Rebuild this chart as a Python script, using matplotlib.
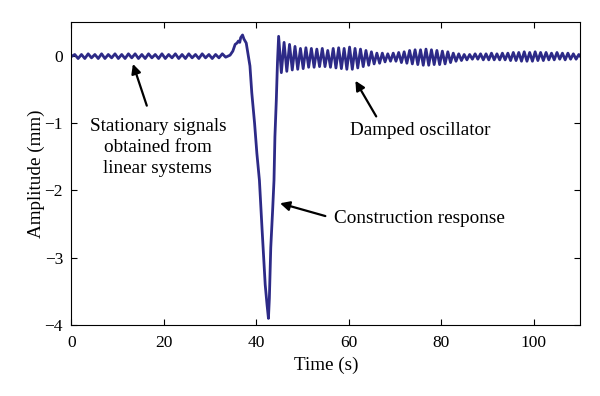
import numpy as np
import matplotlib.pyplot as plt

# quiet part before the event: peaks/troughs every half period
pre_start = 0.0
pre_step = 0.725
pre_amp = [-0.01, 0.02, -0.04, 0.02, -0.04, 0.03, -0.03, 0.02, -0.04, 0.03,
           -0.04, 0.02, -0.03, 0.03, -0.04, 0.02, -0.04, 0.03, -0.03, 0.03,
           -0.04, 0.02, -0.04, 0.03, -0.03, 0.02, -0.04, 0.03, -0.04, 0.02,
           -0.03, 0.03, -0.04, 0.02, -0.04, 0.03, -0.03, 0.02, -0.04, 0.03,
           -0.03, 0.02, -0.04, 0.02, -0.03, 0.03, -0.02]

# construction response
event_t = [34.3, 34.9, 35.4, 35.8, 36.1, 36.4, 36.6, 37.0, 37.3, 37.8, 38.6,
           39.0, 39.6, 40.1, 40.65, 41.2, 41.9, 42.3, 42.6, 42.8, 43.1, 43.5,
           43.8, 44.0, 44.3, 44.55]
event_amp = [0.01, 0.07, 0.17, 0.19, 0.22, 0.20, 0.27, 0.31, 0.25, 0.19, -0.15,
             -0.55, -1.0, -1.45, -1.85, -2.55, -3.4, -3.7, -3.9, -3.6, -2.85, -2.3,
             -1.85, -1.2, -0.66, -0.1]

# damped oscillation afterwards (peak, trough pairs)
post_start = 44.8
post_step = 0.59
post_amp = [0.29, -0.25, 0.20, -0.23, 0.17, -0.21, 0.14, -0.20, 0.11, -0.19,
            0.12, -0.17, 0.11, -0.17, 0.10, -0.16, 0.11, -0.16, 0.08, -0.17,
            0.11, -0.18, 0.12, -0.19, 0.11, -0.20, 0.13, -0.20, 0.11, -0.18,
            0.10, -0.16, 0.08, -0.14, 0.06, -0.12, 0.04, -0.11, 0.04, -0.09,
            0.03, -0.08, 0.04, -0.08, 0.05, -0.10, 0.06, -0.11, 0.08, -0.12,
            0.09, -0.13, 0.09, -0.14, 0.10, -0.14, 0.09, -0.13, 0.08, -0.13,
            0.07, -0.12, 0.06, -0.10, 0.04, -0.08, 0.03, -0.07, 0.02, -0.06,
            0.02, -0.05, 0.03, -0.05, 0.03, -0.06, 0.03, -0.06, 0.04, -0.06,
            0.03, -0.06, 0.04, -0.06, 0.04, -0.07, 0.05, -0.07, 0.05, -0.08,
            0.06, -0.08, 0.05, -0.08, 0.06, -0.07, 0.05, -0.07, 0.05, -0.06,
            0.04, -0.06, 0.05, -0.05, 0.04, -0.06, 0.04, -0.05, 0.03, -0.05,
            0.02, -0.03]

pre_t = pre_start + pre_step*np.arange(len(pre_amp))
post_t = post_start + post_step*np.arange(len(post_amp))
t = np.concatenate([pre_t, event_t, post_t])
amp = np.concatenate([pre_amp, event_amp, post_amp])

plt.rcParams['font.family'] = ['Liberation Serif', 'DejaVu Serif']
plt.rcParams['font.size'] = 13.8

fig = plt.figure(figsize=(6, 3.96), dpi=100)
ax = fig.add_axes([0.119, 0.179, 0.848, 0.765])
ax.plot(t, amp, color='#2d2a87', linewidth=2.0)

ax.set_xlim(0, 110)
ax.set_ylim(-4, 0.5)
ax.set_xticks([0, 20, 40, 60, 80, 100])
ax.set_yticks([-4, -3, -2, -1, 0])
ax.tick_params(direction='in', top=True, right=True, length=4.5, width=0.8, labelsize=12.5)
ax.tick_params(axis='x', pad=7)
ax.tick_params(axis='y', pad=6)
for s in ax.spines.values():
	s.set_linewidth(0.8)
ax.set_xlabel("Time (s)", labelpad=4)
ax.set_ylabel("Amplitude (mm)", labelpad=0)

arrow = dict(arrowstyle='-|>', color='black', lw=1.6, mutation_scale=14, shrinkA=0, shrinkB=0)
ax.annotate("", xy=(13.3, -0.12), xytext=(16.3, -0.74), arrowprops=arrow)
ax.text(18.7, -1.36, "Stationary signals\nobtained from\nlinear systems", ha='center', va='center', linespacing=1.3)
ax.annotate("", xy=(61.4, -0.37), xytext=(65.9, -0.9), arrowprops=arrow)
ax.text(75.4, -1.11, "Damped oscillator", ha='center', va='center')
ax.annotate("", xy=(45.1, -2.19), xytext=(54.9, -2.38), arrowprops=arrow)
ax.text(75.2, -2.41, "Construction response", ha='center', va='center')

fig.savefig("out.png", dpi=100)
